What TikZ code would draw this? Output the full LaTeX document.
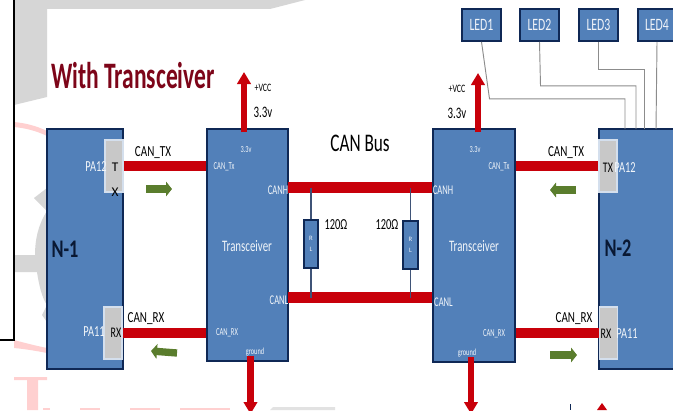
\documentclass[tikz,border=0pt]{standalone}
\usepackage{fontspec}
\setmainfont{Carlito}
\usepackage{graphicx}
\usetikzlibrary{arrows.meta}
\definecolor{boxblue}{RGB}{82,128,185}
\definecolor{boxedge}{RGB}{15,40,85}
\definecolor{busred}{RGB}{200,0,10}
\definecolor{tagred}{RGB}{125,5,25}
\definecolor{pingrey}{RGB}{200,200,200}
\definecolor{markgrey}{RGB}{214,214,214}
\definecolor{markpink}{RGB}{255,208,208}
\definecolor{ledgrey}{RGB}{140,140,140}
\definecolor{arrowgreen}{RGB}{90,125,45}
\newcommand{\tight}[2][0.68]{\scalebox{#1}[1]{#2}}
\tikzset{
    blockbox/.style={draw=boxedge, line width=1.3pt, fill=boxblue, inner sep=0pt},
    ledbox/.style={blockbox, minimum width=29pt, minimum height=24pt, text=white!90!boxblue, font=\fontsize{13}{13}\selectfont},
    pinbox/.style={fill=pingrey, draw=white!75!boxblue, line width=0.8pt, inner sep=0pt, minimum width=13.5pt, minimum height=39pt},
    resbox/.style={blockbox, minimum width=11pt, minimum height=36pt, text=white!90!boxblue, font=\fontsize{5}{5}\selectfont, align=center},
    busbar/.style={busred, line width=8pt},
    ledwire/.style={ledgrey, line width=0.7pt},
    stubwire/.style={boxedge!80!white, line width=0.9pt},
    upbar/.style={busred, line width=4.6pt, -{Triangle[width=10pt,length=9pt]}},
    greenarrow/.style={arrowgreen, line width=5.5pt, -{Triangle[width=11pt,length=4.5pt]}},
    whitetag/.style={text=white!92!boxblue, inner sep=0pt},
    blacktag/.style={text=black, inner sep=0pt},
}
\begin{document}
\begin{tikzpicture}[x=0.75pt, y=-0.75pt]
    \useasboundingbox (0,0) rectangle (673,410);
    \fill[white] (0,0) rectangle (673,410);

    % Watermark behind the slide
    \fill[markgrey] (14,0) -- (305,0) -- (270,9) -- (47,9) -- (47,97) -- (14,105) -- cycle;
    \fill[markpink] (14,122) .. controls (25,123) and (37,126) .. (47,131) -- (47,136) .. controls (37,131) and (25,128) .. (14,127) -- cycle;
    \fill[markpink] (14,340) .. controls (25,343) and (37,346) .. (47,348) -- (47,353) .. controls (37,351) and (25,349) .. (14,348) -- cycle;
    \fill[markgrey] (47,188) -- (34,198) -- (47,211) .. controls (38,225) and (35,240) .. (35,255) -- (15,255) -- (15,272) -- (37,272) .. controls (39,285) and (42,298) .. (47,305) -- (42,315) -- (47,322) -- cycle;
    \fill[markpink] (14,377) -- (47,377) -- (47,380) -- (38,380) -- (38,410) -- (27,410) -- (27,380) -- (14,380) -- cycle;
    \foreach \xa/\xb in {43/50, 80/100, 130/160, 180/230}
        \fill[markpink] (\xa,408) rectangle (\xb,410);
    \fill[markgrey!70!white] (270,410) -- (273,407) -- (335,407) -- (335,410) -- cycle;
    \draw[black, line width=0.8pt] (14,0) -- (14,340) -- (0,340);

    % Slide title
    \node[text=tagred, inner sep=0pt, font=\fontsize{28}{28}\bfseries\selectfont] (title) at (133,76) {\tight[0.63]{With Transceiver}};
    \node[blacktag, font=\fontsize{19}{19}\selectfont] (busname) at (360,143) {\tight{CAN Bus}};

    % Main blocks
    \node[blockbox, minimum width=57pt, minimum height=180pt] (node1) at (85,249) {};
    \node[blockbox, minimum width=60.5pt, minimum height=174pt] (trans1) at (247.5,245) {};
    \node[blockbox, minimum width=61.5pt, minimum height=174.5pt] (trans2) at (474,245.5) {};
    \node[blockbox, minimum width=62pt, minimum height=180pt] (node2) at (640,249) {};
    \node[blacktag, text=boxedge!60!black, font=\fontsize{19}{19}\bfseries\selectfont] (name1) at (65,249) {\tight[0.72]{N-1}};
    \node[blacktag, text=boxedge!60!black, font=\fontsize{19}{19}\bfseries\selectfont] (name2) at (618,248) {\tight[0.72]{N-2}};
    \node[whitetag, font=\fontsize{12}{12}\selectfont] (tname1) at (247,246) {\tight{Transceiver}};
    \node[whitetag, font=\fontsize{12}{12}\selectfont] (tname2) at (474,246) {\tight{Transceiver}};

    % Pins on the two nodes
    \node[pinbox] (n1tx) at (114,166) {};
    \node[pinbox] (n1rx) at (113,333) {};
    \node[pinbox] (n2tx) at (608,166) {};
    \node[pinbox] (n2rx) at (608.5,333) {};
    \node[blacktag, font=\fontsize{10}{10}\selectfont] (tpin1) at (115,167) {T};
    \node[blacktag, font=\fontsize{10}{10}\selectfont] (xpin1) at (115,192) {X};
    \node[blacktag, font=\fontsize{11}{11}\selectfont] (rxpin1) at (116,333) {\tight{RX}};
    \node[blacktag, font=\fontsize{11}{11}\selectfont] (txpin2) at (608,168) {\tight{TX}};
    \node[blacktag, font=\fontsize{11}{11}\selectfont] (rxpin2) at (606,334) {\tight{RX}};
    \foreach \nm/\x/\y/\txt in {pa1/96/167/PA12, pb1/94/332/PA11, pa2/625/168/PA12, pb2/627/334/PA11}
        \node[whitetag, font=\fontsize{11.5}{11.5}\selectfont] (\nm) at (\x,\y) {\tight{\txt}};

    % Signal bars
    \draw[busbar] (n1tx.east) -- (n1tx.east -| trans1.west);
    \draw[busbar] (n1rx.east) -- (n1rx.east -| trans1.west);
    \draw[busbar] (n2tx.west) -- (n2tx.west -| trans2.east);
    \draw[busbar] (n2rx.west) -- (n2rx.west -| trans2.east);
    \coordinate (hleft) at (288,187.5);
    \coordinate (lleft) at (288,297.5);
    \draw[busbar] (hleft) -- (hleft -| trans2.west);
    \draw[busbar] (lleft) -- (lleft -| trans2.west);

    % Terminating resistors
    \node[resbox] (res1) at (311,244) {R\\[3pt]L};
    \node[resbox] (res2) at (410.5,245) {R\\[3pt]L};
    \draw[stubwire] (res1.north) -- (res1.north |- hleft);
    \draw[stubwire] (res1.south) -- (res1.south |- lleft);
    \draw[stubwire] (res2.north) -- (res2.north |- hleft);
    \draw[stubwire] (res2.south) -- (res2.south |- lleft);
    \node[blacktag, font=\fontsize{11.5}{11.5}\selectfont] (ohm1) at (336,225) {\tight{120Ω}};
    \node[blacktag, font=\fontsize{11.5}{11.5}\selectfont] (ohm2) at (387,225) {\tight{120Ω}};

    % Labels on the bars
    \foreach \nm/\x/\y/\txt in {ltx/153/153/CAN\_TX, lrx/146/319/CAN\_RX, rtx/566/153/CAN\_TX, rrx/574/319/CAN\_RX}
        \node[blacktag, font=\fontsize{11.5}{11.5}\selectfont] (\nm) at (\x,\y) {\tight[0.72]{\txt}};

    % Pin names inside the transceivers
    \foreach \nm/\x/\y/\txt in {cta/224/167/CAN\_Tx, cra/227/333/CAN\_RX, ctb/499/167/CAN\_Tx, crb/494/334/CAN\_RX}
        \node[whitetag, font=\fontsize{8}{8}\selectfont] (\nm) at (\x,\y) {\tight[0.62]{\txt}};
    \foreach \nm/\x/\y/\txt in {cha/278/190/CANH, cla/279/300/CANL, chb/443/190/CANH, clb/443.5/302/CANL}
        \node[whitetag, font=\fontsize{10}{10}\selectfont] (\nm) at (\x,\y) {\tight[0.64]{\txt}};
    \node[whitetag, font=\fontsize{7}{7}\selectfont] (v1) at (246,150) {\tight{3.3v}};
    \node[whitetag, font=\fontsize{7}{7}\selectfont] (v2) at (475,150) {\tight{3.3v}};
    \node[whitetag, font=\fontsize{7}{7}\selectfont] (gnd1) at (255,352) {\tight{ground}};
    \node[whitetag, font=\fontsize{7}{7}\selectfont] (gnd2) at (467,353) {\tight{ground}};

    % Supply and ground
    \coordinate (vcctip1) at (244,72);
    \coordinate (vcctip2) at (478,73);
    \coordinate (gndtip1) at (250.5,414);
    \coordinate (gndtip2) at (471,414);
    \draw[upbar] (trans1.north -| vcctip1) ++(0,4) -- (vcctip1);
    \draw[upbar] (trans2.north -| vcctip2) ++(0,4) -- (vcctip2);
    \draw[upbar] (gnd1.south -| gndtip1) -- (gndtip1);
    \draw[upbar] (gnd2.south -| gndtip2) -- (gndtip2);
    \node[blacktag, font=\fontsize{8.5}{8.5}\selectfont] (vcc1) at (263,88) {\tight[0.7]{+VCC}};
    \node[blacktag, font=\fontsize{12}{12}\selectfont] (volt1) at (263,112) {\tight{3.3v}};
    \node[blacktag, font=\fontsize{8.5}{8.5}\selectfont] (vcc2) at (457,89) {\tight[0.7]{+VCC}};
    \node[blacktag, font=\fontsize{12}{12}\selectfont] (volt2) at (457,113) {\tight{3.3v}};

    % Direction arrows
    \coordinate (ga) at (146,189); \coordinate (gb) at (172,189);
    \coordinate (gc) at (177,353); \coordinate (gd) at (151,351);
    \coordinate (ge) at (576,190); \coordinate (gf) at (550,190);
    \coordinate (gg) at (550,355); \coordinate (gh) at (577,355);
    \draw[greenarrow] (ga) -- (gb);
    \draw[greenarrow] (gc) -- (gd);
    \draw[greenarrow] (ge) -- (gf);
    \draw[greenarrow] (gg) -- (gh);

    % LEDs
    \foreach \nm/\x/\txt in {led1/481.5/LED1, led2/539.5/LED2, led3/598.5/LED3, led4/657/LED4}
        \node[ledbox] (\nm) at (\x,25) {\tight{\txt}};
    \draw[ledwire] (led1.south) -- ++(8,57) -| (625,129);
    \draw[ledwire] (led2.south) -- ++(1,44) -| (636,129);
    \draw[ledwire] (led3.south) |- (644,69) -- (644,129);
    \draw[ledwire] (led4.south) -- (656,129);

    % Bits of the next slide at the bottom edge
    \fill[busred] (602,403) -- (607,410) -- (597,410) -- cycle;
    \fill[boxedge] (569.5,404) rectangle (571,410);
\end{tikzpicture}
\end{document}
